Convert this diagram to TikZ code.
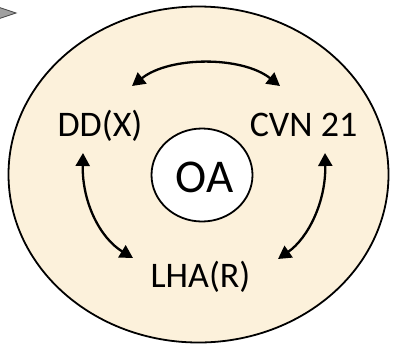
\documentclass[tikz,border=0pt]{standalone}
\usepackage{fontspec}
\setmainfont{Carlito}
\usetikzlibrary{arrows.meta,shapes.geometric}
\definecolor{parch}{RGB}{252,241,219}
\definecolor{tri}{RGB}{160,160,160}
\tikzset{
  lbl/.style={font=\fontsize{36}{38}\selectfont, inner sep=0pt, anchor=base},
  dbl/.style={line width=2.3pt, {Triangle[length=13pt,width=14pt]}-{Triangle[length=13pt,width=14pt]}},
  ring/.style={draw, ellipse, line width=1.8pt, inner sep=0pt},
}
\begin{document}
\begin{tikzpicture}[x=1pt,y=-1pt]
\useasboundingbox (0,0) rectangle (395,346);
% small marker at top-left
\draw[fill=tri, draw=black!70, line width=0.8pt] (-2,7) -- (16,13) -- (-2,19) -- cycle;
% outer ellipse
\node[ring, fill=parch, minimum width=380pt, minimum height=336pt] (outer) at (198.5,174.5) {};
% inner circle
\node[ring, fill=white, minimum width=101pt, minimum height=93pt] (inner) at (202,175) {};
\node[font=\fontsize{47}{50}\selectfont, inner sep=0pt, anchor=base] (oa) at (204.5,192.5) {OA};
% labels
\node[lbl] (dd) at (100,136.5) {DD(X)};
\node[lbl] (cvn) at (303.5,136.5) {CVN 21};
\node[lbl] (lha) at (200.5,287.5) {LHA(R)};
% arrow end points
\coordinate (t1) at (132,86);
\coordinate (t2) at (280,86);
\coordinate (l1) at (83,153);
\coordinate (l2) at (133,258);
\coordinate (r1) at (325,153);
\coordinate (r2) at (278,259);
\draw[dbl] (t1) .. controls (170,56) and (242,56) .. (t2);
\draw[dbl] (l1) .. controls (82,202) and (100,238) .. (l2);
\draw[dbl] (r1) .. controls (326,202) and (308,238) .. (r2);
\end{tikzpicture}
\end{document}
